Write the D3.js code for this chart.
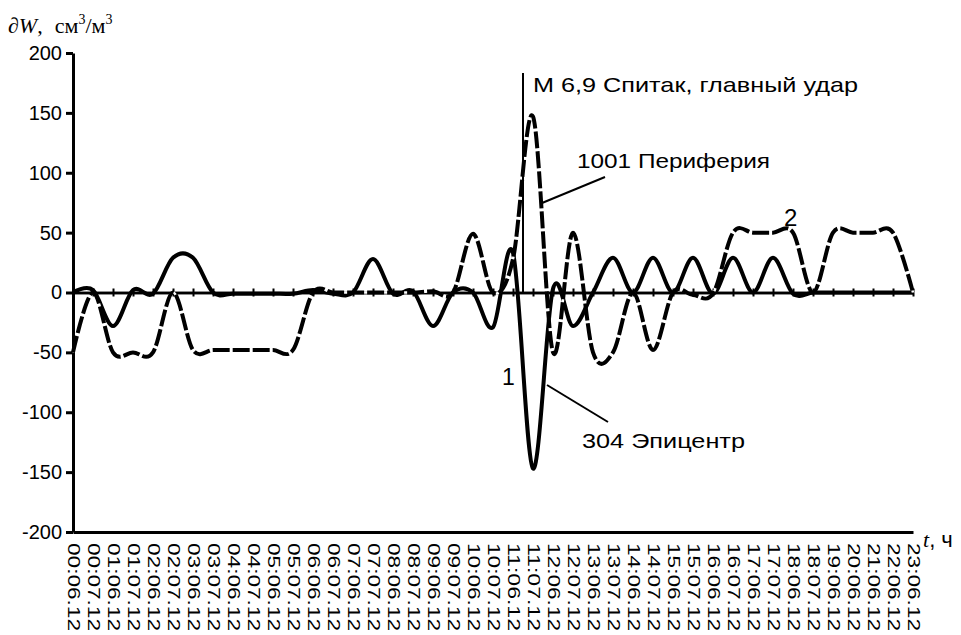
<!DOCTYPE html>
<html>
<head>
<meta charset="utf-8">
<script src="https://cdn.jsdelivr.net/npm/d3@7"></script>
<style>
  html, body { margin: 0; padding: 0; background: #fff; }
  svg { display: block; }
  .sans { font-family: "Liberation Sans", Arial, sans-serif; }
  .serif { font-family: "Liberation Serif", "Times New Roman", serif; }
</style>
</head>
<body>
<svg id="chart" width="961" height="635"></svg>
<script>
// Observation times (hour:day.month)
const times = [
  "00:06.12", "00:07.12", "01:06.12", "01:07.12", "02:06.12", "02:07.12",
  "03:06.12", "03:07.12", "04:06.12", "04:07.12", "05:06.12", "05:07.12",
  "06:06.12", "06:07.12", "07:06.12", "07:07.12", "08:06.12", "08:07.12",
  "09:06.12", "09:07.12", "10:06.12", "10:07.12", "11:06.12", "11:07.12",
  "12:06.12", "12:07.12", "13:06.12", "13:07.12", "14:06.12", "14:07.12",
  "15:06.12", "15:07.12", "16:06.12", "16:07.12", "17:06.12", "17:07.12",
  "18:06.12", "18:07.12", "19:06.12", "20:06.12", "21:06.12", "22:06.12",
  "23:06.12"
];

// Curve 1: station 304, epicentre (solid)
const epicenter304 = [
  0, 2, -28, 2, -1, 29, 29, 0, -1, -1, -1, -1,
  2, -1, 0, 28, -1, 1, -28, 0, 0, -29, 33, -147,
  3, -28, 0, 29, 0, 29, 0, 29, -1, 29, 0, 29,
  -1, 0, 0, 0, 0, 0, 0
];

// Curve 2: station 1001, periphery (dashed)
const periphery1001 = [
  -50, 0, -50, -50, -50, 0, -48, -48, -48, -48, -48, -48,
  0, 0, 0, 0, 0, 0, 1, 0, 49, 0, 28, 147,
  -50, 50, -50, -50, 0, -48, 0, -2, -1, 50, 50, 50,
  50, 0, 50, 50, 50, 50, 0
];

const yTicks = [-200, -150, -100, -50, 0, 50, 100, 150, 200];

// Main shock moment lies between these two readings
const shockBetween = ["11:06.12", "11:07.12"];

const svg = d3.select("#chart");

const x = d3.scalePoint().domain(times).range([73, 913]);
const y = d3.scaleLinear().domain([-200, 200]).range([532, 53]);

// Bottom frame line with rotated time labels
const xAxis = svg.append("g")
  .attr("transform", `translate(0,${y(-200)})`)
  .call(d3.axisBottom(x).tickSize(0).tickSizeOuter(0).tickPadding(0));
xAxis.select(".domain").attr("stroke", "#000").attr("stroke-width", 3);
xAxis.selectAll(".tick text")
  .attr("class", "sans")
  .attr("font-size", 17)
  .attr("fill", "#000")
  .attr("text-anchor", "start")
  .attr("transform", "translate(0,11) rotate(90)")
  .attr("x", 0)
  .attr("y", 0)
  .attr("dy", "0.35em")
  .attr("textLength", 88)
  .attr("lengthAdjust", "spacingAndGlyphs");

// Zero line with small ticks crossing it
const zeroDown = svg.append("g")
  .attr("transform", `translate(0,${y(0)})`)
  .call(d3.axisBottom(x).tickSize(4).tickSizeOuter(0).tickFormat(""));
const zeroUp = svg.append("g")
  .attr("transform", `translate(0,${y(0)})`)
  .call(d3.axisTop(x).tickSize(4).tickSizeOuter(0).tickFormat(""));
[zeroDown, zeroUp].forEach(g => {
  g.select(".domain").attr("stroke", "#000").attr("stroke-width", 2.5);
  g.selectAll(".tick line").attr("stroke", "#000").attr("stroke-width", 2);
});

// Left value axis (plain hyphen for negatives)
const yAxis = svg.append("g")
  .attr("transform", `translate(${x(times[0])},0)`)
  .call(d3.axisLeft(y).tickValues(yTicks).tickFormat(d => String(d))
    .tickSize(7).tickSizeOuter(0).tickPadding(4));
yAxis.select(".domain").attr("stroke", "#000").attr("stroke-width", 3);
yAxis.selectAll(".tick line").attr("stroke", "#000").attr("stroke-width", 3);
yAxis.selectAll(".tick text")
  .attr("class", "sans")
  .attr("font-size", 20)
  .attr("fill", "#000");

const line = d3.line()
  .x((d, i) => x(times[i]))
  .y(d => y(d))
  .curve(d3.curveCardinal.tension(0));

// Solid curve
svg.append("path")
  .datum(epicenter304)
  .attr("d", line)
  .attr("fill", "none")
  .attr("stroke", "#000")
  .attr("stroke-width", 4)
  .attr("stroke-linejoin", "round");

// Dashed curve: white base so gaps read as white
svg.append("path")
  .datum(periphery1001)
  .attr("d", line)
  .attr("fill", "none")
  .attr("stroke", "#fff")
  .attr("stroke-width", 2.5);
svg.append("path")
  .datum(periphery1001)
  .attr("d", line)
  .attr("fill", "none")
  .attr("stroke", "#000")
  .attr("stroke-width", 4)
  .attr("stroke-dasharray", "17,3");

// Main shock marker
const shockX = (x(shockBetween[0]) + x(shockBetween[1])) / 2;
svg.append("line")
  .attr("x1", shockX).attr("x2", shockX)
  .attr("y1", 73).attr("y2", y(0))
  .attr("stroke", "#000").attr("stroke-width", 2);

// Annotations (wide sans lettering)
const ann = svg.append("g").attr("class", "sans").attr("font-size", 21).attr("fill", "#000");
ann.append("text").attr("x", shockX + 10).attr("y", 92)
  .attr("textLength", 325).attr("lengthAdjust", "spacingAndGlyphs")
  .text("М 6,9 Спитак, главный удар");
ann.append("text").attr("x", 577).attr("y", 168)
  .attr("textLength", 193).attr("lengthAdjust", "spacingAndGlyphs")
  .text("1001 Периферия");
ann.append("text").attr("x", 582).attr("y", 448)
  .attr("textLength", 163).attr("lengthAdjust", "spacingAndGlyphs")
  .text("304 Эпицентр");
ann.append("text").attr("x", 502).attr("y", 385).attr("font-size", 23).text("1");
ann.append("text").attr("x", 784).attr("y", 226).attr("font-size", 24).text("2");

// Leader lines from labels to curves
svg.append("line").attr("x1", 605).attr("y1", 177).attr("x2", 542).attr("y2", 203)
  .attr("stroke", "#000").attr("stroke-width", 2);
svg.append("line").attr("x1", 608).attr("y1", 422).attr("x2", 547).attr("y2", 385)
  .attr("stroke", "#000").attr("stroke-width", 2);

// Axis titles
const yTitle = svg.append("text").attr("class", "serif").attr("x", 8).attr("y", 33).attr("font-size", 22).attr("fill", "#000");
yTitle.append("tspan").attr("font-style", "italic").text("∂W");
yTitle.append("tspan").text(",");
yTitle.append("tspan").attr("dx", 12).text("см");
yTitle.append("tspan").attr("font-size", 14).attr("dy", -9).text("3");
yTitle.append("tspan").attr("dy", 9).text("/м");
yTitle.append("tspan").attr("font-size", 14).attr("dy", -9).text("3");

const xTitle = svg.append("text").attr("x", 923).attr("y", 547).attr("font-size", 22).attr("fill", "#000");
xTitle.append("tspan").attr("class", "serif").attr("font-style", "italic").text("t");
xTitle.append("tspan").attr("class", "sans").text(", ч");
</script>
</body>
</html>
